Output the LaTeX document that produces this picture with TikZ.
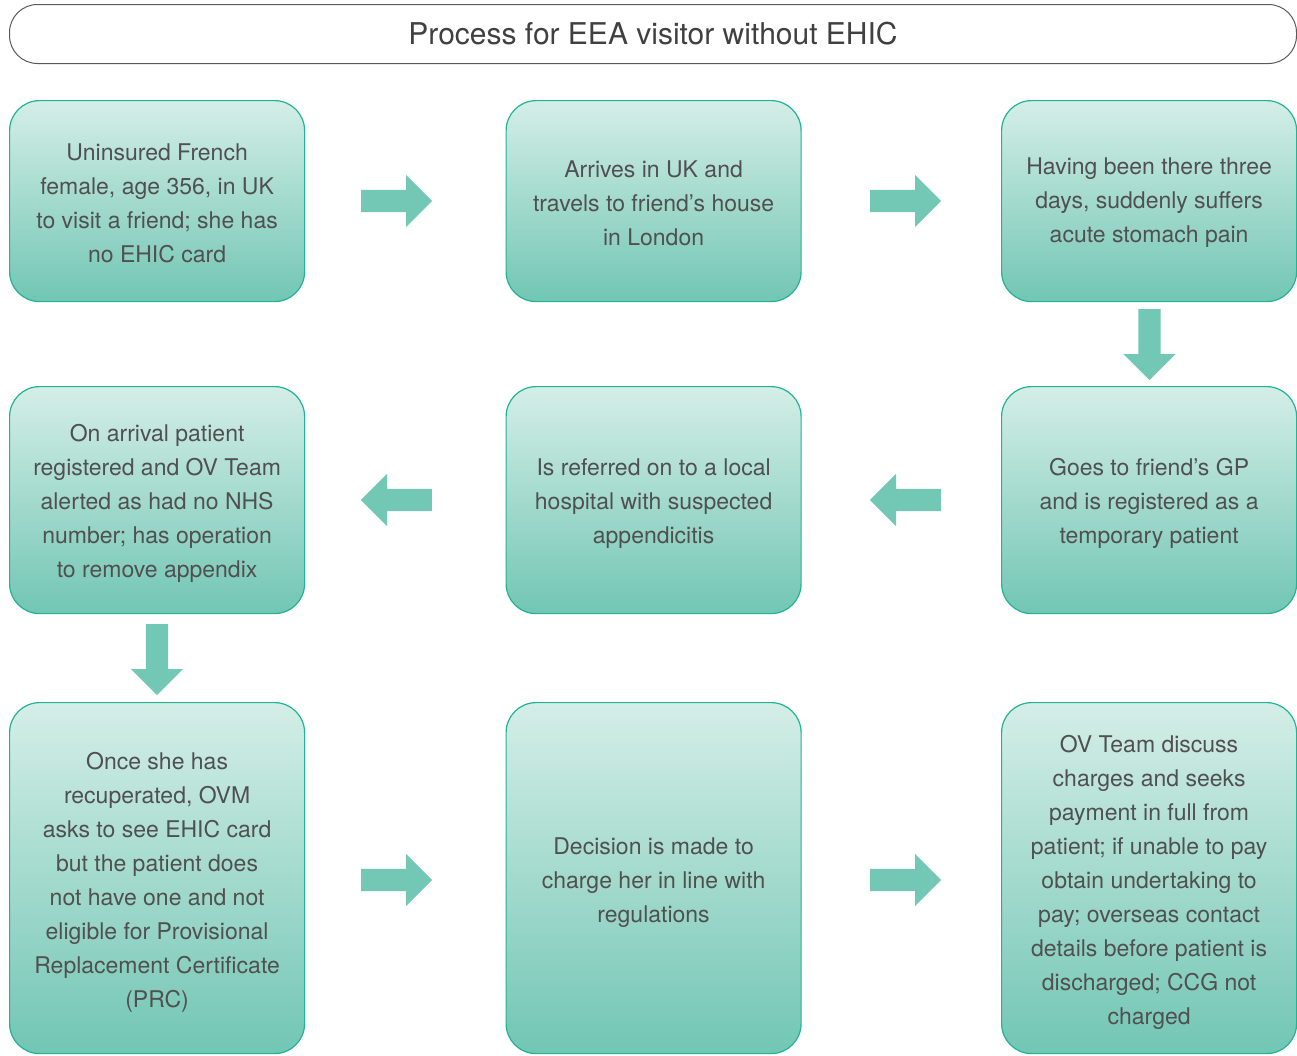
\documentclass[tikz,border=0pt]{standalone}
\usepackage{fontspec}
\setmainfont{TeX Gyre Heros}
\usetikzlibrary{shapes.arrows}
\definecolor{boxtop}{HTML}{D4EEE7}
\definecolor{boxbot}{HTML}{72C6B4}
\definecolor{boxline}{HTML}{20B496}
\definecolor{arrowfill}{HTML}{72C7B5}
\definecolor{txt}{HTML}{505050}
\definecolor{titleline}{HTML}{5A5A5A}
\begin{document}
\begin{tikzpicture}[x=1pt,y=-1pt,
  stepbox/.style={draw=boxline, line width=1.2pt, rounded corners=30pt,
    top color=boxtop, bottom color=boxbot, anchor=north west,
    minimum width=295pt},
  bodytext/.style={text=txt, align=center, inner sep=0pt,
    font=\fontsize{23}{34}\selectfont},
  titlebox/.style={draw=titleline, line width=1pt, rounded corners=28pt,
    fill=white, anchor=north west, minimum width=1287pt, minimum height=59pt,
    text=txt!80!black, font=\fontsize{30}{34}\selectfont},
  blockarrow/.style={single arrow, fill=arrowfill, draw=none,
    minimum width=52pt, minimum height=71pt, single arrow head extend=15pt,
    single arrow head indent=0pt, single arrow tip angle=90, anchor=tail},
  harrow/.style={blockarrow, inner xsep=0pt, inner ysep=11pt},
  varrow/.style={blockarrow, inner xsep=11pt, inner ysep=0pt, shape border rotate=270}]
\useasboundingbox (0,0) rectangle (1297,1055);

\node[titlebox] (title) at (9,4) {Process for EEA visitor without EHIC};

% row 1
\node[stepbox, minimum height=201pt] (b1) at (9,100) {};
\node[stepbox, minimum height=201pt] (b2) at (505.5,100) {};
\node[stepbox, minimum height=201pt] (b3) at (1001,100) {};
\node[bodytext] (t1) at ([yshift=-2pt]b1.center)
  {Uninsured French\\female, age 356, in UK\\to visit a friend; she has\\no EHIC card};
\node[bodytext] (t2) at ([yshift=-2pt]b2.center)
  {Arrives in UK and\\travels to friend’s house\\in London};
\node[bodytext] (t3) at ([yshift=-2pt]b3.center)
  {Having been there three\\days, suddenly suffers\\acute stomach pain};

% row 2
\node[stepbox, minimum height=227pt] (b4) at (1001,386) {};
\node[stepbox, minimum height=227pt] (b5) at (505.5,386) {};
\node[stepbox, minimum height=227pt] (b6) at (9,386) {};
\node[bodytext] (t4) at ([yshift=-3.5pt]b4.center)
  {Goes to friend’s GP\\and is registered as a\\temporary patient};
\node[bodytext] (t5) at ([yshift=-3.5pt]b5.center)
  {Is referred on to a local\\hospital with suspected\\appendicitis};
\node[bodytext] (t6) at ([yshift=-3.5pt]b6.center)
  {On arrival patient\\registered and OV Team\\alerted as had no NHS\\number; has operation\\to remove appendix};

% row 3
\node[stepbox, minimum height=351pt] (b7) at (9,702) {};
\node[stepbox, minimum height=351pt] (b8) at (505.5,702) {};
\node[stepbox, minimum height=351pt] (b9) at (1001,702) {};
\node[bodytext] (t7) at ([yshift=-4.5pt]b7.center)
  {Once she has\\recuperated, OVM\\asks to see EHIC card\\but the patient does\\not have one and not\\eligible for Provisional\\Replacement Certificate\\(PRC)};
\node[bodytext] (t8) at ([yshift=-4.5pt]b8.center)
  {Decision is made to\\charge her in line with\\regulations};
\node[bodytext] (t9) at ([yshift=-4.5pt]b9.center)
  {OV Team discuss\\charges and seeks\\payment in full from\\patient; if unable to pay\\obtain undertaking to\\pay; overseas contact\\details before patient is\\discharged; CCG not\\charged};

% block arrows
\node[harrow] (a12) at (361,201) {};
\node[harrow] (a23) at (870,201) {};
\node[varrow] (a34) at (1149.5,309) {};
\node[harrow, shape border rotate=180] (a45) at (941,500) {};
\node[harrow, shape border rotate=180] (a56) at (432,500) {};
\node[varrow] (a67) at (157,624) {};
\node[harrow] (a78) at (361,880) {};
\node[harrow] (a89) at (870,880) {};
\end{tikzpicture}
\end{document}
